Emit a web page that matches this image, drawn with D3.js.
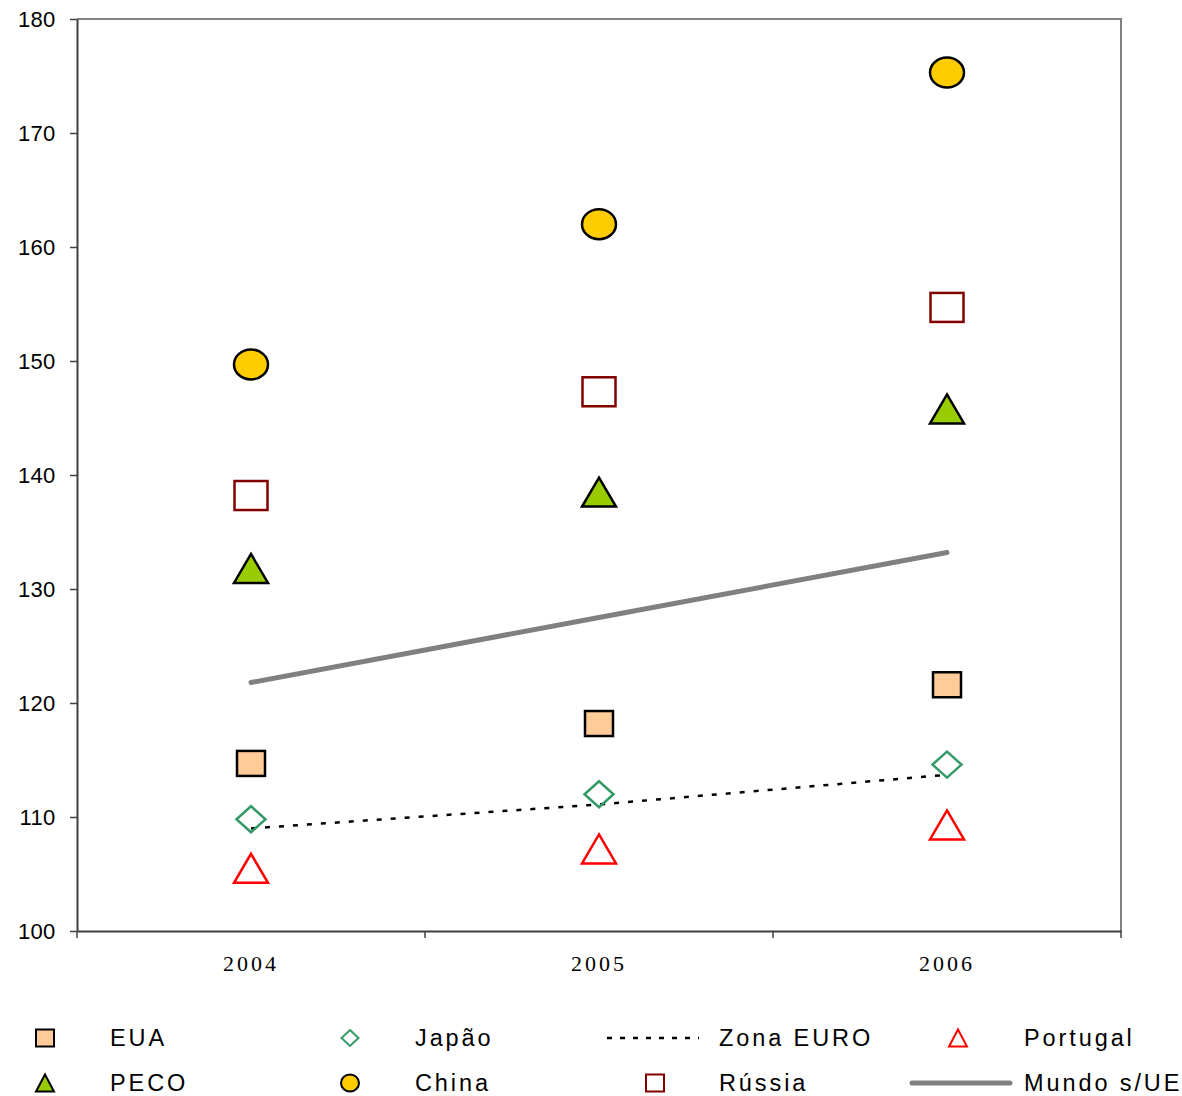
<!DOCTYPE html>
<html><head><meta charset="utf-8">
<script src="https://cdn.jsdelivr.net/npm/d3@7"></script>
<style>body{margin:0;background:#fff}svg{display:block}</style>
</head><body>
<script>
const years = ["2004","2005","2006"];
const yTicks = [100,110,120,130,140,150,160,170,180];
const eua = [114.7,118.2,121.6];
const japao = [109.8,112.0,114.6];
const zonaEuro = [109.0,111.1,113.7];
const portugal = [105.5,107.2,109.3];
const peco = [131.8,138.5,145.8];
const china = [149.7,162.0,175.3];
const russia = [138.2,147.3,154.7];
const mundo = [121.8,127.5,133.2];

const W=1182,H=1096;
const svg=d3.select("body").append("svg").attr("width",W).attr("height",H);
const L=77,R=1121,T=19,B=931;
const x=d3.scaleBand().domain(years).range([L,R]);
const cx=d=>x(d)+x.bandwidth()/2;
const y=d3.scaleLinear().domain([100,180]).range([B,T]);

svg.append("path").attr("d",`M${L},${T}H${R}V${B}`).attr("fill","none").attr("stroke","#808080").attr("stroke-width",2);

const ya=svg.append("g").attr("transform",`translate(${L},0)`).call(d3.axisLeft(y).tickValues(yTicks).tickSize(7).tickSizeOuter(0));
ya.select(".domain").attr("stroke","#404040").attr("stroke-width",2);
ya.selectAll(".tick line").attr("stroke","#404040").attr("stroke-width",1.5);
ya.selectAll("text").attr("font-family","Liberation Sans, Arial, sans-serif").attr("font-size",22).attr("letter-spacing",0.3).attr("fill","#000").attr("x",-21.5);

const xa=svg.append("g").attr("transform",`translate(0,${B})`).call(d3.axisBottom(x).tickSize(0).tickSizeOuter(0));
xa.select(".domain").attr("stroke","#404040").attr("stroke-width",2);
xa.selectAll("text").attr("font-family","Liberation Serif, Times New Roman, serif").attr("font-size",22).attr("fill","#000").attr("y",33).attr("dy","0.32em").attr("letter-spacing",3);
const bounds=[L, ...years.slice(1).map(d=>x(d)), R];
svg.append("g").selectAll("line").data(bounds).join("line")
  .attr("x1",d=>d).attr("x2",d=>d).attr("y1",B).attr("y2",B+7).attr("stroke","#404040").attr("stroke-width",1.5);

const line=d3.line().x((d,i)=>cx(years[i])).y(d=>y(d));
svg.append("path").datum(mundo).attr("d",line).attr("fill","none").attr("stroke","#808080").attr("stroke-width",5).attr("stroke-linecap","round");
svg.append("path").datum(zonaEuro).attr("d",line).attr("fill","none").attr("stroke","#000").attr("stroke-width",2.5).attr("stroke-dasharray","5,9");

function shape(g,type,w,h,fill,stroke,sw){
  let el;
  if(type==="square") el=g.append("rect").attr("x",-w/2).attr("y",-h/2).attr("width",w).attr("height",h);
  else if(type==="circle") el=g.append("ellipse").attr("rx",w/2).attr("ry",h/2);
  else if(type==="diamond") el=g.append("path").attr("d",`M0,${-h/2}L${w/2},0L0,${h/2}L${-w/2},0Z`);
  else if(type==="triangle") el=g.append("path").attr("d",`M0,${-h/2}L${w/2},${h/2}L${-w/2},${h/2}Z`);
  el.attr("fill",fill).attr("stroke",stroke).attr("stroke-width",sw).attr("stroke-linejoin","miter");
}
const series=[
  {name:"EUA",vals:eua,type:"square",w:28,h:25,fill:"#FFCC99",stroke:"#000",sw:2.5},
  {name:"Japão",vals:japao,type:"diamond",w:29,h:26,fill:"none",stroke:"#339966",sw:2.5},
  {name:"Portugal",vals:portugal,type:"triangle",w:34,h:29,fill:"none",stroke:"#FF0000",sw:2.5},
  {name:"PECO",vals:peco,type:"triangle",w:34,h:29,fill:"#99CC00",stroke:"#000",sw:2.5},
  {name:"China",vals:china,type:"circle",w:34,h:30,fill:"#FFCC00",stroke:"#000",sw:2.5},
  {name:"Rússia",vals:russia,type:"square",w:33,h:29,fill:"none",stroke:"#800000",sw:2.5},
];
series.forEach(s=>{
  s.vals.forEach((v,i)=>{
    const g=svg.append("g").attr("transform",`translate(${cx(years[i])},${y(v)})`);
    shape(g,s.type,s.w,s.h,s.fill,s.stroke,s.sw);
  });
});

const legendItems=[
  {name:"EUA",kind:"EUA",sx:45,tx:110,row:0},
  {name:"Japão",kind:"Japão",sx:350,tx:415,row:0},
  {name:"Zona EURO",kind:"dash",sx:652,tx:719,row:0},
  {name:"Portugal",kind:"Portugal",sx:958,tx:1024,row:0},
  {name:"PECO",kind:"PECO",sx:45,tx:110,row:1},
  {name:"China",kind:"China",sx:350,tx:415,row:1},
  {name:"Rússia",kind:"Rússia",sx:655,tx:719,row:1},
  {name:"Mundo s/UE",kind:"solid",sx:960,tx:1024,row:1},
];
const rowY=[1038,1083];
const lg=svg.append("g");
legendItems.forEach(it=>{
  const yy=rowY[it.row];
  if(it.kind==="dash"){
    lg.append("line").attr("x1",607).attr("x2",699).attr("y1",yy).attr("y2",yy).attr("stroke","#000").attr("stroke-width",2.5).attr("stroke-dasharray","5,8");
  } else if(it.kind==="solid"){
    lg.append("line").attr("x1",912).attr("x2",1010).attr("y1",yy).attr("y2",yy).attr("stroke","#808080").attr("stroke-width",5).attr("stroke-linecap","round");
  } else {
    const s=series.find(d=>d.name===it.kind);
    const g=lg.append("g").attr("transform",`translate(${it.sx},${yy})`);
    shape(g,s.type,s.type==="diamond"?17:18,s.type==="diamond"?16:17,s.fill,s.stroke,2);
  }
  lg.append("text").attr("x",it.tx).attr("y",yy).attr("dy","0.35em")
    .attr("font-family","Liberation Sans, Arial, sans-serif").attr("font-size",23.5).attr("letter-spacing",2.9).attr("fill","#000").text(it.name);
});
</script>
</body></html>
